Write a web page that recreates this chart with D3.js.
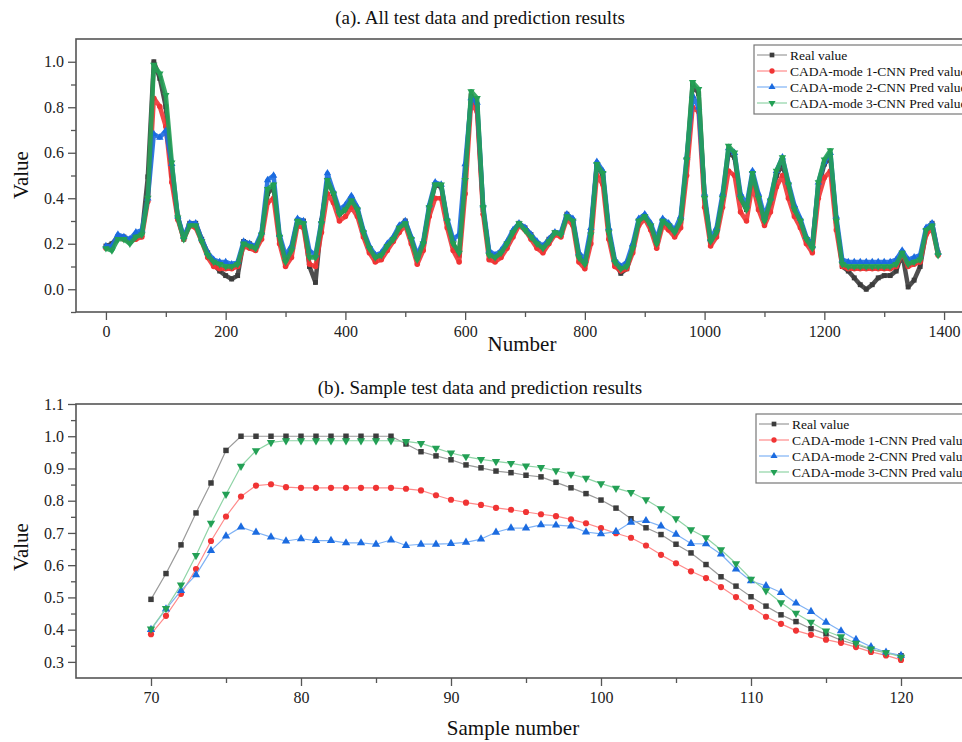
<!DOCTYPE html>
<html>
<head>
<meta charset="utf-8">
<script src="https://cdn.jsdelivr.net/npm/d3@7"></script>
<style>
  body { margin: 0; background: #fff; }
  svg { display: block; font-family: "Liberation Serif", "DejaVu Serif", serif; }
</style>
</head>
<body>
<svg id="chart" width="962" height="742"></svg>
<script>
// ---- data: (a) all test data, sampled every 10 points ----
let allIndex = d3.range(0, 1400, 10);
let allReal = [.19,.20,.23,.23,.21,.24,.24,.494,1.0,.927,.802,.502,.319,.22,.29,.29,.22,.16,.11,.08,
  .06,.045,.06,.21,.20,.18,.24,.42,.45,.22,.13,.18,.30,.30,.10,.03,.30,.48,.42,.33,
  .35,.40,.35,.25,.18,.14,.15,.19,.22,.27,.30,.22,.14,.20,.35,.46,.45,.30,.20,.15,
  .50,.85,.80,.35,.16,.14,.16,.20,.25,.29,.27,.24,.20,.18,.22,.25,.24,.33,.30,.15,
  .11,.25,.55,.50,.25,.12,.07,.09,.18,.30,.32,.28,.20,.30,.28,.25,.30,.55,.90,.86,
  .40,.21,.25,.40,.60,.58,.40,.35,.50,.40,.30,.38,.50,.55,.45,.35,.30,.22,.20,.45,
  .55,.58,.30,.10,.08,.05,.02,.00,.02,.05,.06,.06,.08,.16,.01,.04,.10,.25,.29,.16];
let allMode1 = [.18,.19,.23,.22,.21,.22,.23,.386,.84,.803,.715,.470,.306,.22,.28,.27,.21,.14,.10,.09,
  .09,.09,.10,.19,.18,.17,.22,.38,.40,.20,.10,.14,.28,.27,.11,.10,.25,.42,.38,.30,
  .32,.36,.32,.23,.16,.12,.13,.17,.21,.25,.28,.20,.11,.17,.32,.40,.40,.27,.17,.12,
  .42,.82,.78,.33,.13,.12,.14,.18,.23,.28,.26,.22,.18,.16,.20,.24,.23,.31,.28,.12,
  .09,.20,.50,.46,.22,.10,.08,.09,.16,.28,.31,.26,.18,.28,.26,.23,.27,.50,.80,.78,
  .36,.19,.23,.36,.52,.50,.34,.30,.46,.35,.28,.34,.45,.50,.40,.32,.27,.20,.16,.40,
  .49,.52,.26,.10,.09,.09,.09,.09,.09,.09,.09,.09,.10,.16,.10,.11,.12,.24,.27,.15];
let allMode2 = [.19,.19,.24,.23,.22,.25,.26,.400,.682,.667,.697,.551,.320,.23,.29,.29,.22,.16,.13,.12,
  .12,.11,.12,.21,.20,.19,.25,.48,.50,.24,.15,.19,.31,.30,.17,.15,.30,.51,.43,.35,
  .37,.41,.36,.26,.19,.15,.16,.20,.23,.28,.30,.23,.15,.21,.37,.47,.46,.31,.22,.24,
  .55,.84,.82,.37,.17,.15,.17,.21,.26,.29,.27,.24,.21,.19,.22,.25,.25,.33,.31,.16,
  .13,.27,.56,.52,.27,.13,.10,.12,.20,.31,.33,.29,.22,.31,.29,.26,.32,.58,.85,.80,
  .42,.22,.27,.42,.62,.60,.42,.37,.52,.42,.32,.40,.52,.58,.47,.37,.31,.23,.19,.47,
  .56,.60,.32,.13,.12,.12,.12,.12,.12,.12,.12,.12,.13,.17,.13,.14,.15,.27,.29,.16];
let allMode3 = [.18,.17,.22,.22,.20,.23,.24,.402,.986,.948,.853,.557,.315,.22,.28,.28,.21,.15,.12,.11,
  .10,.10,.11,.20,.19,.18,.24,.44,.46,.23,.12,.17,.30,.29,.14,.14,.29,.48,.42,.33,
  .35,.39,.35,.25,.18,.14,.15,.19,.22,.27,.29,.22,.13,.20,.36,.46,.46,.30,.20,.16,
  .48,.87,.84,.36,.15,.14,.16,.20,.25,.29,.26,.23,.20,.18,.21,.25,.24,.32,.30,.14,
  .11,.24,.55,.51,.25,.12,.09,.10,.18,.30,.32,.28,.20,.30,.28,.25,.30,.57,.91,.88,
  .40,.21,.25,.40,.63,.60,.40,.35,.51,.40,.30,.39,.52,.58,.46,.35,.30,.22,.18,.47,
  .57,.61,.30,.11,.10,.10,.10,.10,.10,.10,.10,.10,.11,.16,.11,.12,.13,.26,.28,.15];

// ---- data: (b) sample 70..120 ----
let sampleIndex = d3.range(70, 121);
let sampleReal = [.494,.574,.663,.762,.855,.956,1.0,1.0,1.0,1.0,1.0,1.0,1.0,1.0,1.0,1.0,1.0,.976,.952,.939,
  .927,.911,.902,.892,.887,.879,.874,.857,.840,.822,.802,.777,.744,.716,.695,.665,.638,.602,.564,.535,
  .502,.473,.446,.425,.403,.387,.367,.354,.339,.328,.319];
let sampleMode1 = [.386,.443,.511,.588,.675,.751,.813,.847,.851,.842,.840,.840,.840,.840,.840,.840,.840,.837,.832,.817,
  .803,.794,.787,.778,.772,.765,.758,.752,.742,.730,.715,.699,.685,.661,.632,.606,.581,.560,.532,.501,
  .470,.440,.418,.397,.384,.369,.359,.346,.331,.320,.306];
let sampleMode2 = [.400,.464,.521,.570,.645,.690,.718,.702,.687,.675,.682,.676,.676,.669,.669,.665,.678,.661,.665,.665,
  .667,.671,.681,.702,.715,.715,.725,.724,.721,.703,.697,.704,.733,.738,.721,.696,.667,.666,.634,.588,
  .551,.536,.515,.482,.456,.423,.396,.369,.347,.330,.320];
let sampleMode3 = [.402,.466,.539,.630,.730,.820,.907,.955,.981,.986,.986,.986,.986,.986,.986,.986,.986,.984,.978,.963,
  .948,.937,.928,.922,.916,.908,.903,.893,.882,.870,.853,.839,.826,.803,.775,.744,.710,.685,.648,.605,
  .557,.521,.484,.451,.423,.396,.378,.358,.340,.329,.315];

let seriesNames = ["Real value", "CADA-mode 1-CNN Pred value", "CADA-mode 2-CNN Pred value", "CADA-mode 3-CNN Pred value"];
let lineColors = ["#9a9a9a", "#ff8a8a", "#7fb2f5", "#8fd4a6"];
let markColors = ["#3c3c3c", "#f03434", "#1b6be0", "#23a055"];
let shapes = [d3.symbolSquare, d3.symbolCircle, d3.symbolTriangle, d3.symbolTriangle];
let flips = [0, 0, 0, 180];

let svg = d3.select("#chart");

function drawPanel(opt) {
    let x = d3.scaleLinear().domain(opt.xDomain).range(opt.xRange);
    let y = d3.scaleLinear().domain(opt.yDomain).range(opt.yRange);
    let g = svg.append("g");

    // minor ticks first, then major with labels
    g.append("g")
        .attr("transform", `translate(0,${opt.yRange[0]})`)
        .call(d3.axisBottom(x).tickValues(opt.xMinor).tickSize(5).tickFormat(""));
    g.append("g")
        .attr("transform", `translate(0,${opt.yRange[0]})`)
        .call(d3.axisBottom(x).tickValues(opt.xMajor).tickSize(8).tickPadding(6).tickFormat(d3.format("d")));
    g.append("g")
        .attr("transform", `translate(${opt.xRange[0]},0)`)
        .call(d3.axisLeft(y).tickValues(opt.yMinor).tickSize(5).tickFormat(""));
    g.append("g")
        .attr("transform", `translate(${opt.xRange[0]},0)`)
        .call(d3.axisLeft(y).tickValues(opt.yMajor).tickSize(8).tickPadding(4).tickFormat(d3.format(".1f")));

    g.selectAll(".domain").remove();
    g.selectAll(".tick line").attr("stroke", "#555").attr("stroke-width", 1.3);
    g.selectAll(".tick text").attr("fill", "#222").style("font-size", "16px")
        .style("font-family", "'Liberation Serif', serif");

    // frame
    g.append("rect")
        .attr("x", opt.xRange[0]).attr("y", opt.yRange[1])
        .attr("width", opt.xRange[1] - opt.xRange[0])
        .attr("height", opt.yRange[0] - opt.yRange[1])
        .attr("fill", "none").attr("stroke", "#555").attr("stroke-width", 1.6);

    let line = d3.line().x((d, i) => x(opt.index[i])).y(d => y(d));

    opt.series.forEach((vals, s) => {
        g.append("path")
            .datum(vals)
            .attr("d", line)
            .attr("fill", "none")
            .attr("stroke", opt.thick ? markColors[s] : lineColors[s])
            .attr("stroke-width", opt.thick ? 4.5 : 1.2)
            .attr("stroke-linejoin", "round")
            .attr("opacity", opt.thick ? 0.9 : 1);
        g.selectAll(null)
            .data(vals)
            .enter()
            .append("path")
            .attr("d", d3.symbol().type(shapes[s]).size(opt.markSize))
            .attr("transform", (d, i) => `translate(${x(opt.index[i])},${y(d)}) rotate(${flips[s]})`)
            .attr("fill", markColors[s]);
    });

    // titles
    svg.append("text")
        .attr("x", 480).attr("y", opt.titleY)
        .attr("text-anchor", "middle")
        .style("font-size", "19px").attr("fill", "#111")
        .text(opt.title);
    svg.append("text")
        .attr("transform", `translate(28,${opt.yLabelY}) rotate(-90)`)
        .attr("text-anchor", "middle")
        .style("font-size", "21px").attr("fill", "#111")
        .text("Value");
    svg.append("text")
        .attr("x", opt.xLabelX).attr("y", opt.xLabelY)
        .attr("text-anchor", "middle")
        .style("font-size", "21px").attr("fill", "#111")
        .text(opt.xLabel);

    // legend
    let lg = svg.append("g").attr("transform", `translate(${opt.legendX},${opt.legendY})`);
    lg.append("rect")
        .attr("width", 260).attr("height", 69)
        .attr("fill", "#fff").attr("stroke", "#777").attr("stroke-width", 1.2);
    seriesNames.forEach((name, s) => {
        let ry = 10 + s * 16;
        lg.append("line").attr("x1", 3).attr("x2", 33).attr("y1", ry).attr("y2", ry)
            .attr("stroke", lineColors[s]).attr("stroke-width", 1.2);
        lg.append("path")
            .attr("d", d3.symbol().type(shapes[s]).size(22))
            .attr("transform", `translate(18,${ry}) rotate(${flips[s]})`)
            .attr("fill", markColors[s]);
        lg.append("text").attr("x", 36).attr("y", ry + 5)
            .style("font-size", "13.5px").attr("fill", "#111")
            .text(name);
    });
}

drawPanel({
    title: "(a). All test data and prediction results",
    titleY: 24,
    xLabel: "Number", xLabelX: 522, xLabelY: 351,
    yLabelY: 175,
    xDomain: [-50, 1450], xRange: [76, 974],
    yDomain: [-0.1, 1.1], yRange: [312, 39],
    xMajor: d3.range(0, 1401, 200), xMinor: d3.range(100, 1401, 200),
    yMajor: [0, 0.2, 0.4, 0.6, 0.8, 1.0], yMinor: [-0.1, 0.1, 0.3, 0.5, 0.7, 0.9],
    index: allIndex,
    series: [allReal, allMode1, allMode2, allMode3],
    thick: true, markSize: 24,
    legendX: 754, legendY: 45
});

drawPanel({
    title: "(b). Sample test data and prediction results",
    titleY: 394,
    xLabel: "Sample number", xLabelX: 513, xLabelY: 735,
    yLabelY: 547,
    xDomain: [65, 125], xRange: [76, 976],
    yDomain: [0.25, 1.1], yRange: [678, 404],
    xMajor: d3.range(70, 121, 10), xMinor: d3.range(75, 126, 10),
    yMajor: d3.range(3, 12).map(d => d / 10), yMinor: d3.range(3, 11).map(d => d / 10 + 0.05),
    index: sampleIndex,
    series: [sampleReal, sampleMode1, sampleMode2, sampleMode3],
    thick: false, markSize: 30,
    legendX: 756, legendY: 414
});
</script>
</body>
</html>
